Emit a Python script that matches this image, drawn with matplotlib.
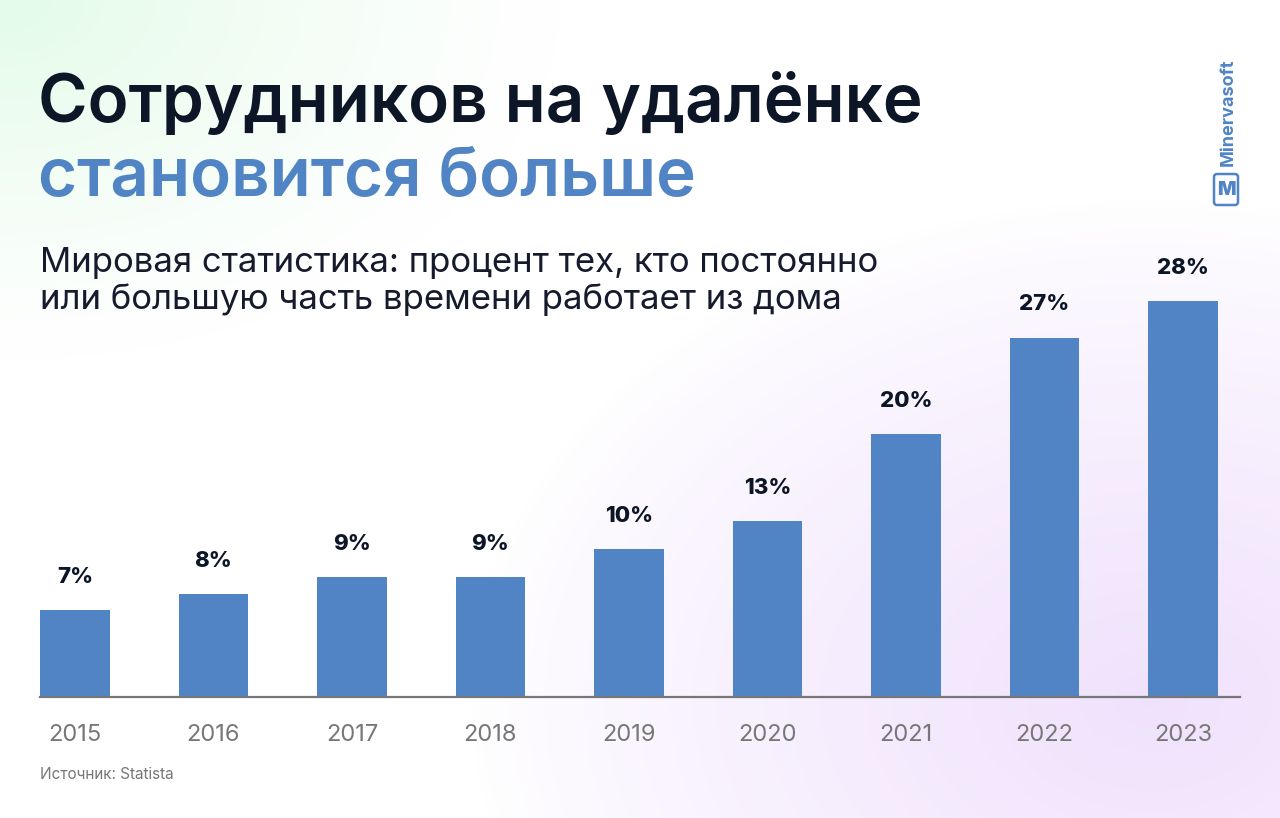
import numpy as np
import matplotlib.pyplot as plt
from matplotlib.patches import FancyBboxPatch

plt.rcParams['font.family'] = ['Inter', 'DejaVu Sans']

# данные
years = ['2015', '2016', '2017', '2018', '2019', '2020', '2021', '2022', '2023']
labels = ['7%', '8%', '9%', '9%', '10%', '13%', '20%', '27%', '28%']
# высоты столбцов как они нарисованы на картинке (в процентах)
heights = [6.15, 7.28, 8.49, 8.49, 10.47, 12.45, 18.6, 25.4, 28.0]

title1 = 'Сотрудников на удалёнке'
title2 = 'становится больше'
sub1 = 'Мировая статистика: процент тех, кто постоянно'
sub2 = 'или большую часть времени работает из дома'
source = 'Источник: Statista'

W, H = 1280, 818
blue = '#5084c4'
dark = '#0d1627'
grey = '#777777'

fig = plt.figure(figsize=(W / 100, H / 100), dpi=100)

# фон с градиентом
bg = fig.add_axes([0, 0, 1, 1])
yy, xx = np.mgrid[0:H, 0:W]
img = np.ones((H, W, 3))
green = np.array([0.89, 0.985, 0.91])
purple = np.array([0.94, 0.885, 0.99])
d_g = np.sqrt((xx / 560.0) ** 2 + (yy / 360.0) ** 2)
w_g = np.clip(1 - d_g, 0, 1) ** 1.2
d_p = np.sqrt(((xx - 1150) / 680.0) ** 2 + ((yy - 700) / 500.0) ** 2)
w_p = np.clip(1 - d_p, 0, 1) ** 0.8
for c in range(3):
    img[:, :, c] = img[:, :, c] * (1 - w_g) + green[c] * w_g
    img[:, :, c] = img[:, :, c] * (1 - w_p) + purple[c] * w_p
bg.imshow(img, aspect='auto', extent=[0, W, H, 0])
bg.set_xlim(0, W)
bg.set_ylim(H, 0)
bg.axis('off')

# заголовки
bg.text(38, 122, title1, fontsize=48.5, fontweight='semibold', color=dark, va='baseline')
bg.text(38, 196, title2, fontsize=48.5, fontweight='semibold', color=blue, va='baseline')
bg.text(40, 272, sub1, fontsize=25, color='#151b2c', va='baseline')
bg.text(40, 309, sub2, fontsize=25, color='#151b2c', va='baseline')
bg.text(40, 779, source, fontsize=11, color=grey, va='baseline')

# логотип
bg.text(1228, 112, 'Minervasoft', fontsize=13, fontweight='bold', color=blue,
        rotation=90, ha='center', va='center')
bg.add_patch(FancyBboxPatch((1214, 174), 24, 31, boxstyle='round,pad=0,rounding_size=3',
                            fill=False, edgecolor=blue, linewidth=1.8))
bg.text(1226, 190, 'M', fontsize=14, fontweight='black', color=blue, ha='center', va='center')

# столбцы
scale = 396 / 28.0
ax = fig.add_axes([40 / W, 1 - 697 / H, 1200 / W, 447 / H])
ax.patch.set_alpha(0)
x = np.arange(len(years))
ax.bar(x, heights, width=0.505, color=blue)
ax.set_xlim((40 - 75) / 138.5, (1240 - 75) / 138.5)
ax.set_ylim(0, 447 / scale)
for i in range(len(x)):
    ax.annotate(labels[i], (x[i], heights[i]), xytext=(0, 24), textcoords='offset points',
                ha='center', va='center', fontsize=16, fontweight='heavy', color=dark)

for s in ['top', 'right', 'left']:
    ax.spines[s].set_visible(False)
ax.spines['bottom'].set_color(grey)
ax.spines['bottom'].set_linewidth(1.6)
ax.set_yticks([])
ax.set_xticks(x)
ax.set_xticklabels(years, fontsize=17, color=grey)
ax.tick_params(axis='x', length=0, pad=19.5)

fig.savefig('out.png', dpi=100)
